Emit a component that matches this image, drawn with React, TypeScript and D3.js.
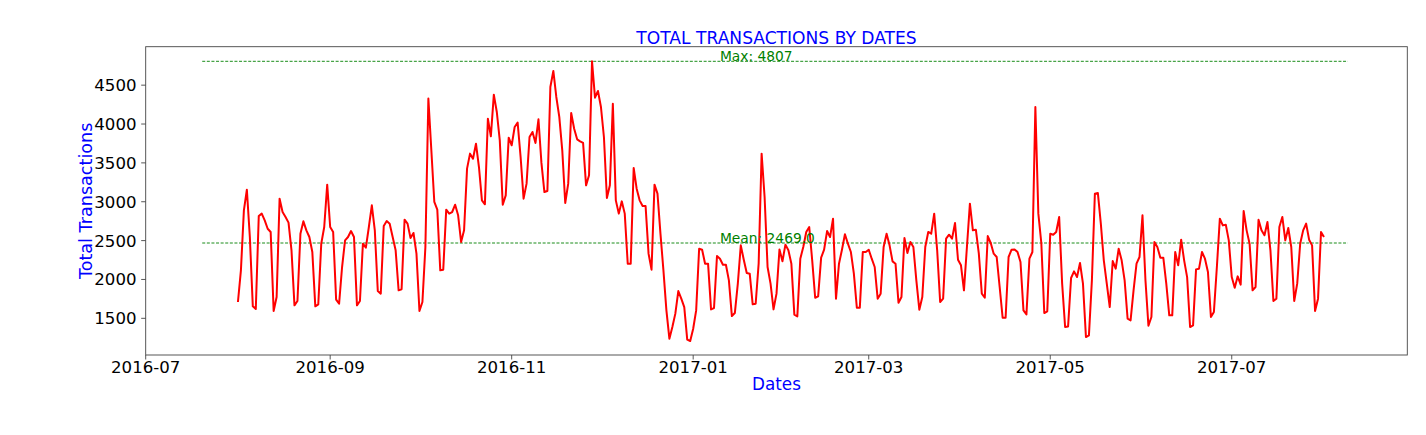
import { useRef, useEffect } from 'react'
import * as d3 from 'd3'

// daily totals, one array per month, starting 2016-08-01
const aug2016 = [1710, 2117, 2889, 3155, 2546, 1654, 1620, 2816, 2847, 2761, 2653, 2611, 1594, 1774, 3040, 2868,
  2804, 2731, 2375, 1667, 1723, 2589, 2748, 2632, 2546, 2353, 1654, 1680, 2460, 2675, 3220]
const sep2016 = [2675, 2611, 1740, 1688, 2160, 2503, 2546, 2623, 2546, 1667, 1723, 2460, 2409, 2675, 2954,
  2632, 1851, 1817, 2688, 2752, 2718, 2546, 2375, 1860, 1873, 2769, 2718, 2533, 2598, 2332]
const oct2016 = [1594, 1710, 2418, 4327, 3662, 2997, 2898, 2117, 2126, 2898, 2847, 2868, 2962, 2825, 2482,
  2632, 3426, 3619, 3554, 3747, 3447, 3018, 2967, 4069, 3842, 4378, 4155, 3790, 2962, 3082, 3825]
const nov2016 = [3726, 3962, 4018, 3576, 3040, 3233, 3833, 3898, 3756, 4061, 3500, 3125, 3138, 4477, 4683,
  4348, 4091, 3662, 2984, 3233, 4142, 3940, 3803, 3777, 3756, 3211, 3340, 4807, 4339, 4425]
const dec2016 = [4219, 3833, 3048, 3211, 4262, 3018, 2847, 3005, 2847, 2203, 2203, 3434, 3168, 3018, 2945,
  2945, 2332, 2126, 3220, 3104, 2589, 2117, 1602, 1238, 1388, 1560, 1851, 1753, 1645, 1225, 1208]
const jan2017 = [1366, 1602, 2396, 2383, 2203, 2203, 1615, 1632, 2302, 2267, 2190, 2190, 1989, 1529, 1568,
  1946, 2439, 2254, 2083, 2074, 1680, 1688, 2203, 3619, 3061, 2160, 1946, 1615, 1817, 2387, 2233]
const feb2017 = [2448, 2375, 2203, 1547, 1525, 2267, 2418, 2611, 2675, 2246, 1765, 1783, 2280, 2383, 2623,
  2546, 2782, 1753, 2203, 2383, 2581, 2460, 2353, 2074, 1637, 1637, 2353, 2353]
const mar2017 = [2383, 2267, 2160, 1753, 1817, 2418, 2589, 2439, 2233, 2203, 1701, 1774, 2533, 2340, 2482,
  2418, 1989, 1611, 1774, 2418, 2611, 2589, 2847, 2375, 1710, 1753, 2525, 2576, 2525, 2726, 2254]
const apr2017 = [2182, 1860, 2418, 2975, 2632, 2641, 2332, 1817, 1765, 2559, 2469, 2332, 2289, 1903, 1508,
  1508, 2289, 2383, 2387, 2353, 2224, 1602, 1551, 2267, 2353, 4219, 2847, 2469, 1568, 1590]
const may2017 = [2589, 2576, 2611, 2804, 1946, 1388, 1396, 2019, 2104, 2031, 2212, 1946, 1259, 1281, 1989,
  3104, 3113, 2718, 2246, 1946, 1645, 2237, 2139, 2396, 2246, 1989, 1495, 1474, 1860, 2203, 2289]
const jun2017 = [2825, 1989, 1405, 1517, 2482, 2418, 2280, 2280, 1946, 1538, 1538, 2353, 2182, 2512, 2246,
  2031, 1388, 1409, 2130, 2139, 2353, 2267, 2096, 1517, 1581, 2160, 2782, 2696, 2705, 2503]
const jul2017 = [2031, 1894, 2040, 1933, 2881, 2632, 2460, 1860, 1903, 2769, 2632, 2568, 2739, 2375, 1723,
  1753, 2675, 2804, 2503, 2662, 2418, 1723, 1946, 2460, 2632, 2718, 2512, 2439, 1594, 1753, 2611]
const aug2017 = [2546]

const startDate = new Date(Date.UTC(2016, 7, 1))
const xTicks = ['2016-07', '2016-09', '2016-11', '2017-01', '2017-03', '2017-05', '2017-07']
const yTicks = [1500, 2000, 2500, 3000, 3500, 4000, 4500]

const meanValue = 2469.0
const maxValue = 4807
const refLineStart = new Date(Date.UTC(2016, 6, 20))
const refLineEnd = new Date(Date.UTC(2017, 7, 9))
const refLabelDate = new Date(Date.UTC(2017, 0, 10))

const WIDTH = 1426
const HEIGHT = 435
const FONT = '"DejaVu Sans", sans-serif'

export default function App() {
  const svgRef = useRef<SVGSVGElement>(null)

  useEffect(() => {
    const svg = d3.select(svgRef.current)
    svg.selectAll('*').remove()

    const values = [...aug2016, ...sep2016, ...oct2016, ...nov2016, ...dec2016, ...jan2017,
      ...feb2017, ...mar2017, ...apr2017, ...may2017, ...jun2017, ...jul2017, ...aug2017]
    const data = values.map((v, i) => ({ date: d3.utcDay.offset(startDate, i), value: v }))

    const left = 145.7, right = 1407.3, top = 46.7, bottom = 355

    const x = d3.scaleUtc()
      .domain([new Date(Date.UTC(2016, 6, 1)), new Date(Date.UTC(2017, 7, 29))])
      .range([left, right])
    const y = d3.scaleLinear()
      .domain([1028, 4995])
      .range([bottom, top])

    svg.append('rect').attr('width', WIDTH).attr('height', HEIGHT).attr('fill', '#fff')

    // Reference lines
    const refs = [
      { value: maxValue, label: `Max: ${maxValue}` },
      { value: meanValue, label: `Mean: ${meanValue.toFixed(1)}` },
    ]
    refs.forEach(r => {
      svg.append('line')
        .attr('x1', x(refLineStart)).attr('x2', x(refLineEnd))
        .attr('y1', y(r.value)).attr('y2', y(r.value))
        .attr('stroke', 'green').attr('stroke-width', 0.9)
        .attr('stroke-dasharray', '3,1.6')
    })

    // Series
    const line = d3.line<{ date: Date; value: number }>()
      .x(d => x(d.date))
      .y(d => y(d.value))

    svg.append('path')
      .datum(data)
      .attr('d', line)
      .attr('fill', 'none')
      .attr('stroke', 'red')
      .attr('stroke-width', 2)
      .attr('stroke-linejoin', 'round')

    refs.forEach(r => {
      svg.append('text')
        .attr('x', x(refLabelDate)).attr('y', y(r.value))
        .attr('fill', 'green')
        .attr('font-family', FONT).attr('font-size', 13.8)
        .text(r.label)
    })

    // Frame
    svg.append('rect')
      .attr('x', left).attr('y', top)
      .attr('width', right - left).attr('height', bottom - top)
      .attr('fill', 'none').attr('stroke', '#444').attr('stroke-width', 0.9)

    // X axis
    const parse = d3.utcParse('%Y-%m')
    xTicks.forEach(t => {
      const px = x(parse(t) as Date)
      svg.append('line')
        .attr('x1', px).attr('x2', px).attr('y1', bottom).attr('y2', bottom + 4.5)
        .attr('stroke', '#444').attr('stroke-width', 0.9)
      svg.append('text')
        .attr('x', px).attr('y', 373)
        .attr('text-anchor', 'middle')
        .attr('font-family', FONT).attr('font-size', 16.6)
        .attr('fill', '#000')
        .text(t)
    })

    // Y axis
    yTicks.forEach(t => {
      const py = y(t)
      svg.append('line')
        .attr('x1', left - 4.5).attr('x2', left).attr('y1', py).attr('y2', py)
        .attr('stroke', '#444').attr('stroke-width', 0.9)
      svg.append('text')
        .attr('x', 136.5).attr('y', py)
        .attr('dy', '0.36em')
        .attr('text-anchor', 'end')
        .attr('font-family', FONT).attr('font-size', 16.6)
        .attr('fill', '#000')
        .text(t)
    })

    // Titles
    svg.append('text')
      .attr('x', (left + right) / 2).attr('y', 44)
      .attr('text-anchor', 'middle')
      .attr('font-family', FONT).attr('font-size', 17.1)
      .attr('fill', 'blue')
      .text('TOTAL TRANSACTIONS BY DATES')

    svg.append('text')
      .attr('x', (left + right) / 2).attr('y', 389.5)
      .attr('text-anchor', 'middle')
      .attr('font-family', FONT).attr('font-size', 16.8)
      .attr('fill', 'blue')
      .text('Dates')

    svg.append('text')
      .attr('transform', `translate(92,${(top + bottom) / 2}) rotate(-90)`)
      .attr('text-anchor', 'middle')
      .attr('font-family', FONT).attr('font-size', 17.6)
      .attr('fill', 'blue')
      .text('Total Transactions')
  }, [])

  return (
    <svg
      ref={svgRef}
      width={WIDTH}
      height={HEIGHT}
      style={{ position: 'absolute', left: 0, top: 0, display: 'block' }}
    />
  )
}
